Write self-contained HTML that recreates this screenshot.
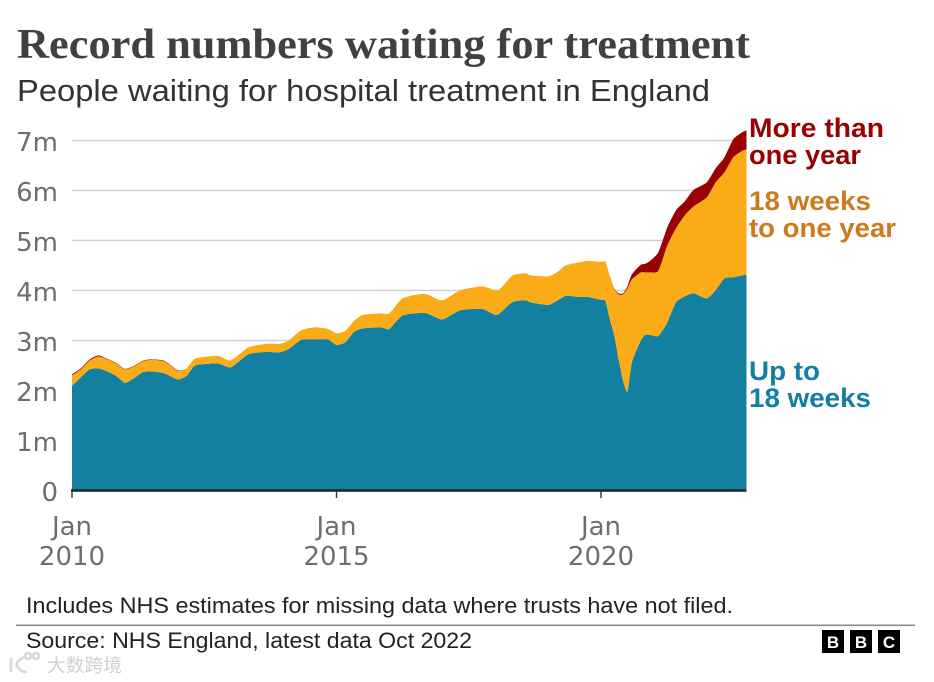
<!DOCTYPE html>
<html lang="en">
<head>
<meta charset="utf-8">
<title>Record numbers waiting for treatment</title>
<style>
  html, body { margin: 0; padding: 0; background: #fff; }
  body { width: 934px; height: 682px; overflow: hidden; }
  svg { display: block; }
  .sans { font-family: "Liberation Sans", "Noto Sans CJK SC", sans-serif; }
  .tick { font-family: "DejaVu Sans", sans-serif; font-size: 26px; fill: #6e6e6e; }
  .lab { font-family: "Liberation Sans", sans-serif; font-weight: 700; font-size: 27px; }
</style>
</head>
<body>
<svg id="chart" width="934" height="682" viewBox="0 0 934 682" xmlns="http://www.w3.org/2000/svg">
  <text x="17" y="58" textLength="733" lengthAdjust="spacingAndGlyphs" style="font-family:'Liberation Serif',serif;font-weight:700;font-size:42px;fill:#404040">Record numbers waiting for treatment</text>
  <text class="sans" x="17" y="101" textLength="693" lengthAdjust="spacingAndGlyphs" style="font-size:31px;fill:#333">People waiting for hospital treatment in England</text>

  <g id="grid"></g>
  <g id="areas"></g>
  <g id="axis"></g>

  <text class="lab" x="749" y="137" textLength="135" lengthAdjust="spacingAndGlyphs" fill="#990000">More than</text>
  <text class="lab" x="749" y="164" textLength="112" lengthAdjust="spacingAndGlyphs" fill="#990000">one year</text>
  <text class="lab" x="749" y="210" textLength="122" lengthAdjust="spacingAndGlyphs" fill="#cc7a1e">18 weeks</text>
  <text class="lab" x="749" y="237" textLength="147" lengthAdjust="spacingAndGlyphs" fill="#cc7a1e">to one year</text>
  <text class="lab" x="749" y="380" textLength="71" lengthAdjust="spacingAndGlyphs" fill="#1380a1">Up to</text>
  <text class="lab" x="749" y="407" textLength="122" lengthAdjust="spacingAndGlyphs" fill="#1380a1">18 weeks</text>

  <text class="sans" x="26" y="613" textLength="707" lengthAdjust="spacingAndGlyphs" style="font-size:22px;fill:#222">Includes NHS estimates for missing data where trusts have not filed.</text>
  <rect x="16" y="624.5" width="899" height="1.6" fill="#8a8a8a"/>
  <text class="sans" x="26" y="648" textLength="446" lengthAdjust="spacingAndGlyphs" style="font-size:22px;fill:#222">Source: NHS England, latest data Oct 2022</text>

  <g>
    <rect x="822" y="630" width="22" height="23" fill="#000"/>
    <rect x="850" y="630" width="22" height="23" fill="#000"/>
    <rect x="878" y="630" width="22" height="23" fill="#000"/>
    <text x="833" y="648" text-anchor="middle" style="font-family:'Liberation Sans',sans-serif;font-weight:700;font-size:17px;fill:#fff">B</text>
    <text x="861" y="648" text-anchor="middle" style="font-family:'Liberation Sans',sans-serif;font-weight:700;font-size:17px;fill:#fff">B</text>
    <text x="889" y="648" text-anchor="middle" style="font-family:'Liberation Sans',sans-serif;font-weight:700;font-size:17px;fill:#fff">C</text>
  </g>

  <g>
    <path d="M11 658 v14 M24 657 q-9 5 -7 9 q3 6 10 6 M25 656 a3 3 0 1 0 6 0 a3 3 0 1 0 -6 0 M33 656 a3 3 0 1 0 6 0 a3 3 0 1 0 -6 0" fill="none" stroke="#d8d8d8" stroke-width="2.6"/>
    <text x="47" y="672" textLength="75" lengthAdjust="spacingAndGlyphs" style="font-family:'Noto Sans CJK SC',sans-serif;font-size:18.5px;fill:#d0d0d0">大数跨境</text>
  </g>
</svg>

<script>
// Month offsets from Jan 2010 for each reading
const months = [0,2,4,6,8,10,12,14,16,18,21,24,26,28,33,36,40,44,47,49,52,55,58,60,62,64,66,70,72,75,80,84,88,93,96,97,100,103,104,108,110,112,115,117,120,121,122,123,124,125,126,127,129,130,131,133,135,137,139,141,144,146,148,150,152,153];
// Stacked series, millions of people
const upTo18Weeks = [2.09,2.26,2.42,2.44,2.38,2.29,2.15,2.24,2.36,2.38,2.34,2.22,2.29,2.50,2.54,2.46,2.72,2.77,2.76,2.82,3.01,3.02,3.02,2.91,2.96,3.17,3.24,3.26,3.23,3.50,3.55,3.42,3.60,3.63,3.51,3.54,3.77,3.80,3.76,3.71,3.79,3.89,3.87,3.87,3.81,3.79,3.42,3.10,2.62,2.20,1.97,2.56,2.99,3.11,3.11,3.09,3.35,3.76,3.88,3.94,3.84,4.00,4.24,4.26,4.30,4.31];
const weeks18ToOneYear = [0.21,0.16,0.18,0.24,0.24,0.25,0.27,0.24,0.22,0.23,0.24,0.17,0.15,0.14,0.15,0.14,0.14,0.16,0.17,0.17,0.19,0.24,0.21,0.23,0.23,0.22,0.27,0.28,0.31,0.34,0.38,0.38,0.40,0.45,0.49,0.48,0.53,0.54,0.54,0.57,0.57,0.61,0.69,0.72,0.76,0.78,0.87,0.93,1.30,1.72,2.07,1.66,1.37,1.25,1.25,1.30,1.54,1.48,1.62,1.74,2.02,2.16,2.12,2.40,2.49,2.51];
const overOneYear = [0.02,0.02,0.02,0.02,0.01,0.01,0.01,0.01,0.01,0.01,0.01,0.01,0,0,0,0,0,0,0,0,0,0,0,0,0,0,0,0,0,0,0,0,0,0,0,0,0,0,0,0,0,0,0,0,0,0,0,0.01,0.02,0.02,0.04,0.10,0.15,0.17,0.22,0.37,0.36,0.36,0.28,0.33,0.30,0.28,0.30,0.36,0.37,0.38];
// Axis ticks
const yTickValues = [0,1,2,3,4,5,6,7];
const yTickLabels = ['0','1m','2m','3m','4m','5m','6m','7m'];
const xTickMonths = [0,60,120];
const xTickLine1 = ['Jan','Jan','Jan'];
const xTickLine2 = ['2010','2015','2020'];

const NS = 'http://www.w3.org/2000/svg';
const xScale = m => 72 + m * (601 - 72) / 120;
const yScale = v => 490.4 - 50 * v;
const make = (tag, parent) => { const n = document.createElementNS(NS, tag); parent.appendChild(n); return n; };

const grid = document.getElementById('grid');
const axis = document.getElementById('axis');
const areas = document.getElementById('areas');
const right = xScale(months[months.length - 1]);

yTickValues.forEach((v, i) => {
  if (v > 0) {
    const line = make('line', grid);
    
    
    line.setAttribute('x1', 72);
    line.setAttribute('x2', right);
    line.setAttribute('y1', yScale(v));
    line.setAttribute('y2', yScale(v));
    line.setAttribute('stroke', '#cfcfcf');
    line.setAttribute('stroke-width', '1.4');
  }
  const t = make('text', axis);
  
  
  t.setAttribute('class', 'tick');
  t.setAttribute('x', 58);
  t.setAttribute('y', yScale(v) + 10.5);
  t.setAttribute('text-anchor', 'end');
  t.textContent = yTickLabels[i];
});

const layers = [
  { values: upTo18Weeks, color: '#1380a1', name: 'area-up-to-18-weeks' },
  { values: weeks18ToOneYear, color: '#faab18', name: 'area-18-weeks-to-one-year' },
  { values: overOneYear, color: '#990000', name: 'area-more-than-one-year' }
];

function stackedTop(upto, i) {
  let s = 0;
  for (let k = 0; k <= upto; k++) s += layers[k].values[i];
  return s;
}

// Gentle Catmull-Rom smoothing through a list of points, continuing an open path
function curveThrough(pts) {
  const t = 0.1;
  let d = '';
  for (let i = 0; i < pts.length - 1; i++) {
    const p0 = pts[Math.max(i - 1, 0)], p1 = pts[i], p2 = pts[i + 1], p3 = pts[Math.min(i + 2, pts.length - 1)];
    const c1x = p1[0] + (p2[0] - p0[0]) * t, c1y = p1[1] + (p2[1] - p0[1]) * t;
    const c2x = p2[0] - (p3[0] - p1[0]) * t, c2y = p2[1] - (p3[1] - p1[1]) * t;
    d += 'C' + c1x.toFixed(2) + ' ' + c1y.toFixed(2) + ' ' + c2x.toFixed(2) + ' ' + c2y.toFixed(2) + ' ' + p2[0].toFixed(2) + ' ' + p2[1].toFixed(2);
  }
  return d;
}

layers.forEach((layer, k) => {
  const topPts = months.map((m, i) => [xScale(m), yScale(stackedTop(k, i))]);
  const basePts = months.map((m, i) => [xScale(m), yScale(k === 0 ? 0 : stackedTop(k - 1, i))]).reverse();
  let d = 'M' + topPts[0][0].toFixed(2) + ' ' + topPts[0][1].toFixed(2) + curveThrough(topPts);
  d += 'L' + basePts[0][0].toFixed(2) + ' ' + basePts[0][1].toFixed(2) + curveThrough(basePts) + 'Z';
  const p = make('path', areas);
  
  
  p.setAttribute('d', d);
  p.setAttribute('fill', layer.color);
});

const base = make('rect', axis);


base.setAttribute('x', 71);
base.setAttribute('y', 489.2);
base.setAttribute('width', right - 71);
base.setAttribute('height', 2.6);
base.setAttribute('fill', '#1d2a30');

xTickMonths.forEach((m, i) => {
  const x = xScale(m);
  const tk = make('line', axis);
  
  
  tk.setAttribute('x1', x);
  tk.setAttribute('x2', x);
  tk.setAttribute('y1', 491);
  tk.setAttribute('y2', 498);
  tk.setAttribute('stroke', '#333');
  tk.setAttribute('stroke-width', '1.4');
  const a = make('text', axis);
  
  
  a.setAttribute('class', 'tick');
  a.setAttribute('x', x);
  a.setAttribute('y', 535);
  a.setAttribute('text-anchor', 'middle');
  a.textContent = xTickLine1[i];
  const b = make('text', axis);
  
  
  b.setAttribute('class', 'tick');
  b.setAttribute('x', x);
  b.setAttribute('y', 565);
  b.setAttribute('text-anchor', 'middle');
  b.textContent = xTickLine2[i];
});
</script>
</body>
</html>
